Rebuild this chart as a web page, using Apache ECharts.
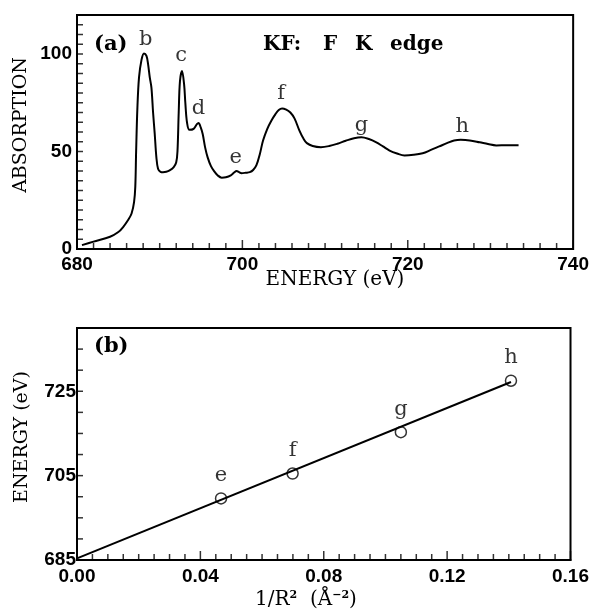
<!DOCTYPE html>
<html><head><meta charset="utf-8">
<script src="https://cdn.jsdelivr.net/npm/echarts@6/dist/echarts.min.js"></script>
<style>html,body{margin:0;padding:0;background:#fff}#c{width:592px;height:610px}</style>
</head><body><div id="c"></div>
<script>
// Panel (a): absorption spectrum
var energyA = [680.6,682.0,684.0,685.0,685.6,686.2,686.6,686.9,687.05,687.15,687.3,687.5,687.8,688.1,688.4,688.6,688.8,689.0,689.2,689.4,689.6,689.8,690.1,690.4,690.8,691.2,691.7,692.0,692.15,692.3,692.45,692.7,692.95,693.1,693.3,693.6,694.1,694.5,694.7,694.95,695.2,695.5,695.8,696.2,696.6,697.0,697.5,698.0,698.6,699.0,699.3,699.6,699.9,700.4,700.9,701.3,701.7,702.1,702.5,703.0,703.5,704.0,704.4,704.8,705.3,705.8,706.3,706.9,707.4,707.8,708.5,709.5,710.5,711.5,712.5,713.5,714.4,715.3,716.2,717.0,717.8,718.7,719.6,720.7,721.8,722.8,723.8,724.8,725.6,726.4,727.5,728.7,729.7,730.7,732.0,733.4];
var absorption = [2.0,3.8,6.3,8.7,11.4,15,18.2,24,32,50,72,88,97,100.3,99,94.7,88,82.8,70,59,47,41.2,39.6,39.4,39.6,40.3,42,44.5,50,70,86,91.3,84.5,75,65,61.1,61.6,64,64.6,62.5,59,52,47,42.5,39.8,37.8,36.6,36.8,37.8,39.2,40.0,39.4,38.9,39.1,39.4,40.5,43,48.5,55.6,61.5,65.8,69.2,71.3,72.1,71.5,70,67,60.7,56.5,54.3,52.8,52.2,52.8,54,55.5,56.8,57.3,56.4,54.7,52.6,50.5,49,48,48.3,49.1,50.8,52.6,54.4,55.6,56,55.7,54.7,53.8,53.1,53.2,53.2];
var peakNames = ['b','c','d','e','f','g','h'];
var peakLabelE = [688.3,692.6,694.7,699.2,704.7,714.4,726.6];
var peakLabelA = [107.5,99,71.9,46.9,79.6,63.3,62.8];

// Panel (b): energy vs 1/R^2
var pointNames = ['e','f','g','h'];
var invR2 = [0.0467,0.0699,0.105,0.1407];
var pointEnergy = [699.6,705.5,715.3,727.5];
var fitX = [0,0.1407];
var fitY = [685.4,727.2];

// Axis scales
var xMinA = 680, xMaxA = 740, xMajorA = 20, xMinorA = 2;
var yMinA = 0, yMaxA = 120, yMajorA = 50, yMinorA = 5;
var xMinB = 0, xMaxB = 0.16, xMajorB = 0.04, xMinorB = 0.005;
var yMinB = 685, yMaxB = 740, yMajorB = 20, yMinorB = 5;

var serif = 'DejaVu Serif';
var sans = 'Liberation Sans';
var tickLabel = {color:'#000', fontFamily:sans, fontWeight:'bold', fontSize:19};

function steps(min, max, step) {
  var out = [], n = Math.round((max - min) / step);
  for (var i = 0; i <= n; i++) out.push(+(min + i * step).toFixed(6));
  return out;
}
function isMajor(v, min, major) {
  var r = (v - min) / major;
  return Math.abs(r - Math.round(r)) < 1e-6;
}
// inward tick marks drawn as thin rect symbols on the frame through the axes' own scales
function xTicks(xi, yi, min, max, minor, major, yBase) {
  return {type:'scatter', xAxisIndex:xi, yAxisIndex:yi, silent:true, clip:false, z:5,
    itemStyle:{color:'#000'},
    data:steps(min, max, minor).map(function(v){
      var len = isMajor(v, min, major) ? 9 : 6;
      return {value:[v, yBase], symbol:'rect', symbolSize:[1.5, len], symbolOffset:[0, -len/2]};
    })};
}
function yTicks(xi, yi, min, max, minor, xBase) {
  return {type:'scatter', xAxisIndex:xi, yAxisIndex:yi, silent:true, clip:false, z:5,
    itemStyle:{color:'#000'},
    data:steps(min, max, minor).map(function(v){
      return {value:[xBase, v], symbol:'rect', symbolSize:[6, 1.5], symbolOffset:[3, 0]};
    })};
}

var chart = echarts.init(document.getElementById('c'));
chart.setOption({
  animation:false,
  backgroundColor:'#fff',
  grid:[
    {left:77, right:18, top:15, height:234, show:true, borderColor:'#000', borderWidth:2, backgroundColor:'transparent'},
    {left:77, right:18, top:328, height:232, show:true, borderColor:'#000', borderWidth:2, backgroundColor:'transparent'}
  ],
  xAxis:[
    {gridIndex:0, position:'bottom', type:'value', min:xMinA, max:xMaxA, interval:xMajorA,
     axisLine:{show:true, onZero:false, lineStyle:{color:'#000', width:2}},
     axisTick:{show:false}, splitLine:{show:false},
     axisLabel:Object.assign({margin:6}, tickLabel)},
    {gridIndex:1, position:'bottom', type:'value', min:xMinB, max:xMaxB, interval:xMajorB,
     axisLine:{show:true, onZero:false, lineStyle:{color:'#000', width:2}},
     axisTick:{show:false}, splitLine:{show:false},
     axisLabel:Object.assign({margin:7, formatter:function(v){return v.toFixed(2);}}, tickLabel)}
  ],
  yAxis:[
    {gridIndex:0, position:'left', type:'value', min:yMinA, max:yMaxA, interval:yMajorA,
     axisLine:{show:true, onZero:false, lineStyle:{color:'#000', width:2}},
     axisTick:{show:false}, splitLine:{show:false},
     axisLabel:Object.assign({margin:5, showMaxLabel:false}, tickLabel)},
    {gridIndex:1, position:'left', type:'value', min:yMinB, max:yMaxB, interval:yMajorB,
     axisLine:{show:true, onZero:false, lineStyle:{color:'#000', width:2}},
     axisTick:{show:false}, splitLine:{show:false},
     axisLabel:Object.assign({margin:1, showMaxLabel:false}, tickLabel)}
  ],
  series:[
    {type:'line', xAxisIndex:0, yAxisIndex:0, smooth:0.35, showSymbol:false,
     lineStyle:{color:'#000', width:2},
     data:energyA.map(function(e,i){return [e, absorption[i]];})},
    {type:'scatter', xAxisIndex:0, yAxisIndex:0, symbolSize:0, silent:true,
     label:{show:true, position:'inside', color:'#000', fontFamily:serif, fontSize:21, formatter:function(p){return p.name;}},
     data:peakNames.map(function(n,i){return {name:n, value:[peakLabelE[i], peakLabelA[i]]};})},
    {type:'line', xAxisIndex:1, yAxisIndex:1, showSymbol:false,
     lineStyle:{color:'#000', width:2},
     data:fitX.map(function(x,i){return [x, fitY[i]];})},
    {type:'scatter', xAxisIndex:1, yAxisIndex:1, symbol:'circle', symbolSize:11,
     itemStyle:{color:'#fff', borderColor:'#000', borderWidth:1.5},
     label:{show:true, position:'top', distance:6, color:'#000', fontFamily:serif, fontSize:21, formatter:function(p){return p.name;}},
     data:pointNames.map(function(n,i){return {name:n, value:[invR2[i], pointEnergy[i]]};})},
    xTicks(0, 0, xMinA, xMaxA, xMinorA, xMajorA, yMinA),
    yTicks(0, 0, yMinA, yMaxA, yMinorA, xMinA),
    xTicks(1, 1, xMinB, xMaxB, xMinorB, xMajorB, yMinB),
    yTicks(1, 1, yMinB, yMaxB, yMinorB, xMinB)
  ],
  graphic:[
    {type:'text', left:94, top:34, style:{text:'(a)', font:'bold 21px "DejaVu Serif"', fill:'#000'}},
    {type:'text', left:263, top:35, style:{text:'KF:', font:'bold 20px "DejaVu Serif"', fill:'#000'}},
    {type:'text', left:323, top:35, style:{text:'F', font:'bold 20px "DejaVu Serif"', fill:'#000'}},
    {type:'text', left:355, top:35, style:{text:'K', font:'bold 20px "DejaVu Serif"', fill:'#000'}},
    {type:'text', left:390, top:35, style:{text:'edge', font:'bold 20px "DejaVu Serif"', fill:'#000'}},
    {type:'text', left:94, top:336, style:{text:'(b)', font:'bold 21px "DejaVu Serif"', fill:'#000'}},
    {type:'text', x:335, y:280, style:{text:'ENERGY (eV)', font:'20px "DejaVu Serif"', fill:'#000', align:'center', verticalAlign:'middle'}},
    {type:'text', x:21, y:125, rotation:Math.PI/2, style:{text:'ABSORPTION', font:'19px "DejaVu Serif"', fill:'#000', align:'center', verticalAlign:'middle'}},
    {type:'text', x:22, y:437, rotation:Math.PI/2, style:{text:'ENERGY (eV)', font:'19px "DejaVu Serif"', fill:'#000', align:'center', verticalAlign:'middle'}},
    {type:'text', x:306, y:600, style:{
      text:'{n|1/R}{s|2}{n|  (Å}{s|−2}{n|)}', align:'center', verticalAlign:'middle',
      rich:{n:{font:'20px "DejaVu Serif"', fill:'#000', color:'#000'}, s:{font:'bold 11px "DejaVu Serif"', color:'#000', verticalAlign:'top', padding:[0,0,10,0]}}}}
  ]
});
</script>
</body></html>
